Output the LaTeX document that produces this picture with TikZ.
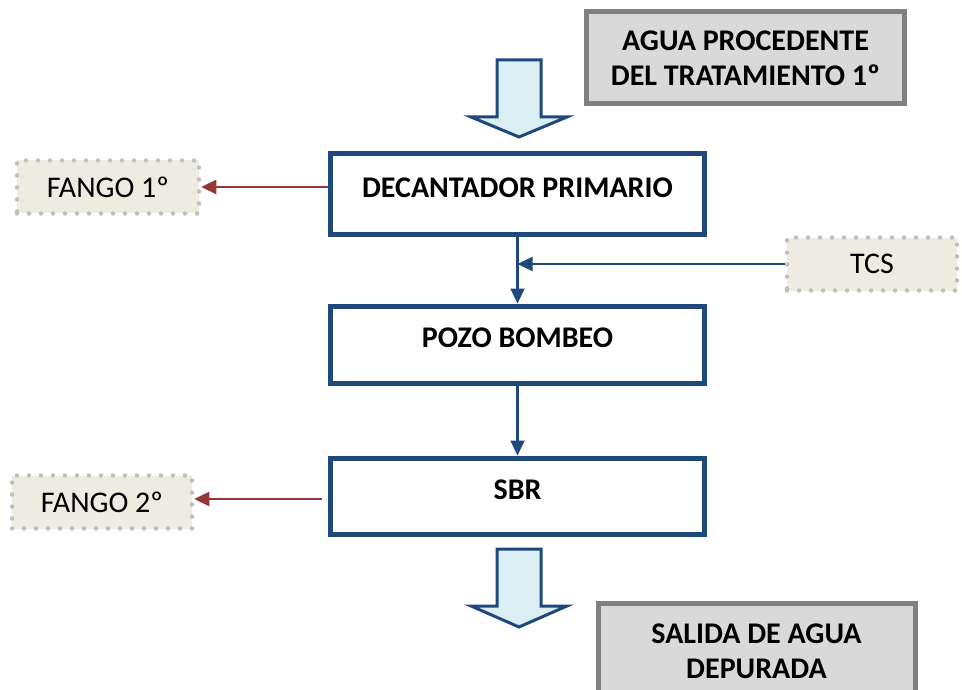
\documentclass[tikz,border=0pt]{standalone}
\usepackage{fontspec}
\setmainfont{Carlito}
\usetikzlibrary{arrows.meta}

\definecolor{azul}{HTML}{1F497D}
\definecolor{rojo}{HTML}{953735}
\definecolor{celeste}{HTML}{DAEEF3}
\definecolor{gris}{HTML}{808080}
\definecolor{grisclaro}{HTML}{D9D9D9}
\definecolor{crema}{HTML}{EEECE1}
\definecolor{puntos}{HTML}{BFBFBF}

\begin{document}
\begin{tikzpicture}[x=1pt, y=-1pt, every node/.style={font=\fontsize{30}{35}\selectfont},
  etapa/.style={draw=azul, line width=5pt, fill=white, minimum width=374pt, inner sep=0pt,
    font=\fontsize{30}{35}\selectfont\bfseries, text height=19pt, text depth=13pt},
  extremo/.style={draw=gris, line width=5pt, fill=grisclaro, minimum width=318pt, minimum height=92pt,
    inner sep=0pt, align=center, font=\fontsize{30}{35}\selectfont\bfseries},
  residuo/.style={draw=puntos, fill=crema, line width=4.5pt, line cap=round, dash pattern=on 0pt off 12pt,
    minimum height=53pt, inner sep=0pt},
  flechaazul/.style={draw=azul, line width=2.2pt, -{Triangle[length=15pt,width=14pt]}},
  flecharoja/.style={draw=rojo, line width=2.2pt, -{Triangle[length=15pt,width=14pt]}},
  gruesa/.style={draw=azul, line width=3pt, fill=celeste, line join=miter}]

\clip (0,0) rectangle (962,690);

\node[extremo] (entrada) at (745.5,58) {AGUA PROCEDENTE\\DEL TRATAMIENTO 1º};
\node[etapa, minimum height=81pt] (dec) at (517.5,194) {DECANTADOR PRIMARIO};
\node[etapa, minimum height=77pt] (pozo) at (517.5,344.5) {POZO BOMBEO};
\node[etapa, minimum height=76pt] (sbr) at (517.5,496) {SBR};
\node[extremo, minimum width=317pt, minimum height=96pt] (salida) at (756.5,651) {SALIDA DE AGUA\\DEPURADA};

\node[residuo, minimum width=182pt] (fango1) at (108,187) {FANGO 1º};
\node[residuo, minimum width=170pt] (tcs) at (872,264) {TCS};
\node[residuo, minimum width=180pt] (fango2) at (102,502) {FANGO 2º};

% flechas gruesas
\draw[gruesa] (497,60) -- (541,60) -- (541,117) -- (567,117) -- (519,137) -- (471,117) -- (497,117) -- cycle;
\draw[gruesa] (497,549) -- (541,549) -- (541,606) -- (567,606) -- (519,627) -- (471,606) -- (497,606) -- cycle;

\draw[flechaazul] (dec.south) -- (pozo.north);
\draw[flechaazul] (tcs.west) -- (tcs.west -| dec.south);
\draw[flechaazul] (pozo.south) -- (sbr.north);
\draw[flecharoja] (dec.west |- fango1.east) -- (fango1.east);
\draw[flecharoja] ([xshift=-6pt]sbr.west |- 0,499) -- (fango2.east |- 0,499);
\end{tikzpicture}
\end{document}
